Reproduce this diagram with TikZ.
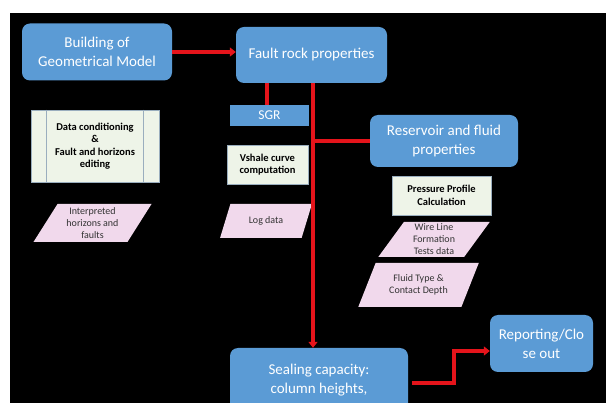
\documentclass[tikz,border=0pt]{standalone}
\usepackage{fontspec}
\setmainfont{Carlito}
\usetikzlibrary{arrows.meta,shapes.geometric}
\definecolor{boxblue}{HTML}{5B9BD5}
\definecolor{linered}{HTML}{E5141B}
\definecolor{palebox}{HTML}{EEF4E8}
\definecolor{paleline}{HTML}{9AAEBE}
\definecolor{pinkbox}{HTML}{F1D9EC}
\begin{document}
\begin{tikzpicture}[x=1pt,y=-1pt,
  bluebox/.style={fill=boxblue,draw=none,rounded corners=8pt,text=white,
    align=center,font=\fontsize{15}{19}\selectfont,inner sep=2pt},
  sgrbox/.style={fill=boxblue,draw=none,text=white,font=\fontsize{13.5}{14}\selectfont,inner sep=0pt},
  calcbox/.style={fill=palebox,draw=paleline,line width=.6pt,align=center,
    font=\fontsize{10.5}{12.5}\selectfont\bfseries,inner sep=2pt},
  databox/.style={trapezium,trapezium left angle=60,trapezium right angle=120,
    trapezium stretches=true,fill=pinkbox,draw=none,align=center,inner sep=0pt,
    text=black!80,font=\fontsize{10}{12}\selectfont},
  redline/.style={draw=linered,line width=3.2pt},
  redarrow/.style={redline,-{Triangle[length=6pt,width=9pt]}}]
\useasboundingbox (0,0) rectangle (608,403);
\fill[black] (10,13) rectangle (606,403);
%% top row
\node[bluebox,minimum width=150pt,minimum height=57pt] (build) at (97,52) {Building of\\Geometrical Model};
\node[bluebox,minimum width=151pt,minimum height=56pt] (fault) at (311.5,55) {Fault rock properties};
\draw[redarrow] (build.east) -- (build.east -| fault.west);
%% left column
\node[calcbox,minimum width=128pt,minimum height=72pt] (cond) at (95,146) {Data conditioning\\\&\\Fault and horizons\\editing};
\draw[paleline,line width=.6pt] ([xshift=16pt]cond.north west) -- ([xshift=16pt]cond.south west);
\draw[paleline,line width=.6pt] ([xshift=-16pt]cond.north east) -- ([xshift=-16pt]cond.south east);
\node[databox,minimum width=119pt,minimum height=38pt] (interp) at (92.5,223) {Interpreted\\horizons and\\faults};
%% middle column
\node[sgrbox,minimum width=79pt,minimum height=21pt] (sgr) at (269.5,115.5) {SGR};
\draw[redline] (sgr.north -| 267,0) -- (fault.south -| 267,0);
\node[calcbox,minimum width=81pt,minimum height=39pt] (vshale) at (267.5,164.5) {Vshale curve\\computation};
\node[databox,minimum width=92pt,minimum height=34pt] (logdata) at (266,221) {Log data};
%% right column
\node[bluebox,minimum width=148pt,minimum height=52pt] (resv) at (444,141) {Reservoir and fluid\\properties};
\node[calcbox,minimum width=99pt,minimum height=39pt] (press) at (441.5,195.5) {Pressure Profile\\Calculation};
\node[databox,minimum width=112pt,minimum height=35pt] (wire) at (434,239.5) {Wire Line\\Formation\\Tests data};
\node[databox,minimum width=121pt,minimum height=44pt] (fluid) at (418.5,285) {Fluid Type \&\\Contact Depth};
%% bottom row
\node[bluebox,minimum width=178pt,minimum height=64pt] (seal) at (319,380) {Sealing capacity:\\column heights,};
\node[bluebox,minimum width=103pt,minimum height=57pt] (report) at (541.5,343.5) {Reporting/Clo\\se out};
%% trunk and branches
\draw[redarrow] ([xshift=1.5pt]fault.south) -- ([xshift=1.5pt]fault.south |- seal.north);
\draw[redline] (resv.west -| 313,0) -- (resv.west);
\draw[redarrow] ([xshift=4pt,yshift=-3pt]seal.east) -| (454,351) -- ([yshift=-7.5pt]report.west);
\end{tikzpicture}
\end{document}
